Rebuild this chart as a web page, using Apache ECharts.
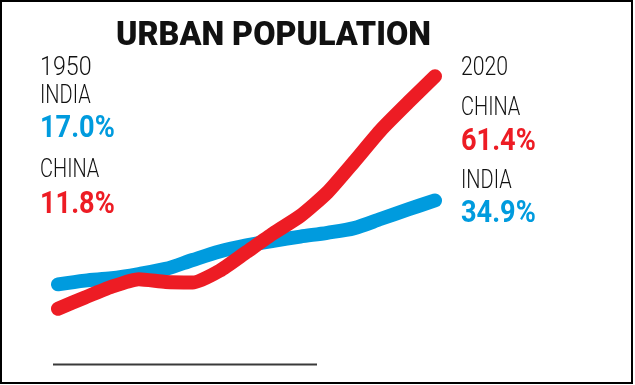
<!DOCTYPE html>
<html>
<head>
<meta charset="utf-8">
<script src="https://cdn.jsdelivr.net/npm/echarts@6/dist/echarts.min.js"></script>
<style>
html,body{margin:0;padding:0;background:#fff;}
#chart{width:635px;height:385px;}
</style>
</head>
<body>
<div id="chart"></div>
<script>
// ---- data ----
const years = [1950,1955,1960,1965,1970,1975,1980,1985,1990,1995,2000,2005,2010,2015,2020];
const india = [17.0,17.8,18.3,19.2,20.3,22.2,24.0,25.3,26.3,27.2,28.0,29.0,31.0,33.0,34.9];
const china = [11.8,14.2,16.5,18.1,17.5,17.4,19.9,23.9,27.9,31.6,36.6,43.2,50.0,55.8,61.4];
const titleText = 'URBAN POPULATION';
const seriesNames = ['INDIA','CHINA'];

const RED = '#ED1C24', BLUE = '#009BDE', INK = '#111111';
const pct = v => v.toFixed(1) + '%';

function txt(x, y, text, opts) {
  return {
    type: 'text', x: x, y: y, scaleX: opts.scaleX || 1, silent: true, z: 10,
    style: {
      x: 0, y: 0, text: text,
      fill: opts.fill || INK,
      font: opts.font,
      align: opts.align || 'left',
      verticalAlign: 'middle'
    }
  };
}

const thin = '300 25px Roboto';
const bold = '700 32px Roboto';

const chart = echarts.init(document.getElementById('chart'));
chart.setOption({
  animation: false,
  backgroundColor: '#fff',
  grid: { left: 58, right: 200, top: 36, bottom: 21 },
  xAxis: { type: 'value', min: years[0], max: years[years.length - 1], show: false },
  yAxis: { type: 'value', min: 0, max: 70, show: false },
  series: [
    {
      name: seriesNames[0], type: 'line', showSymbol: false, smooth: 0.3,
      data: years.map((y, i) => [y, india[i]]),
      lineStyle: { color: BLUE, width: 14, cap: 'round', join: 'round' }
    },
    {
      name: seriesNames[1], type: 'line', showSymbol: false, smooth: 0.2,
      data: years.map((y, i) => [y, china[i]]),
      lineStyle: { color: RED, width: 14, cap: 'round', join: 'round' }
    }
  ],
  graphic: [
    { type: 'rect', silent: true, shape: { x: 1, y: 1, width: 631, height: 382 },
      style: { fill: 'none', stroke: '#000', lineWidth: 2 } },
    { type: 'line', silent: true, shape: { x1: 53, y1: 364.5, x2: 317, y2: 364.5 },
      style: { stroke: '#3a3a3a', lineWidth: 2 } },
    txt(273.5, 36, titleText, { font: '900 34px Roboto', align: 'center', scaleX: 0.95 }),
    txt(40, 69, String(years[0]), { font: thin, scaleX: 0.93 }),
    txt(40, 97, seriesNames[0], { font: thin, scaleX: 0.8 }),
    txt(40, 128.5, pct(india[0]), { font: bold, fill: BLUE, scaleX: 0.85 }),
    txt(40, 171, seriesNames[1], { font: thin, scaleX: 0.8 }),
    txt(40, 204.5, pct(china[0]), { font: bold, fill: RED, scaleX: 0.85 }),
    txt(461, 69, String(years[years.length - 1]), { font: thin, scaleX: 0.85 }),
    txt(461, 108.5, seriesNames[1], { font: thin, scaleX: 0.8 }),
    txt(461, 142, pct(china[china.length - 1]), { font: bold, fill: RED, scaleX: 0.85 }),
    txt(461, 182, seriesNames[0], { font: thin, scaleX: 0.8 }),
    txt(461, 213.5, pct(india[india.length - 1]), { font: bold, fill: BLUE, scaleX: 0.85 })
  ]
});
</script>
</body>
</html>
